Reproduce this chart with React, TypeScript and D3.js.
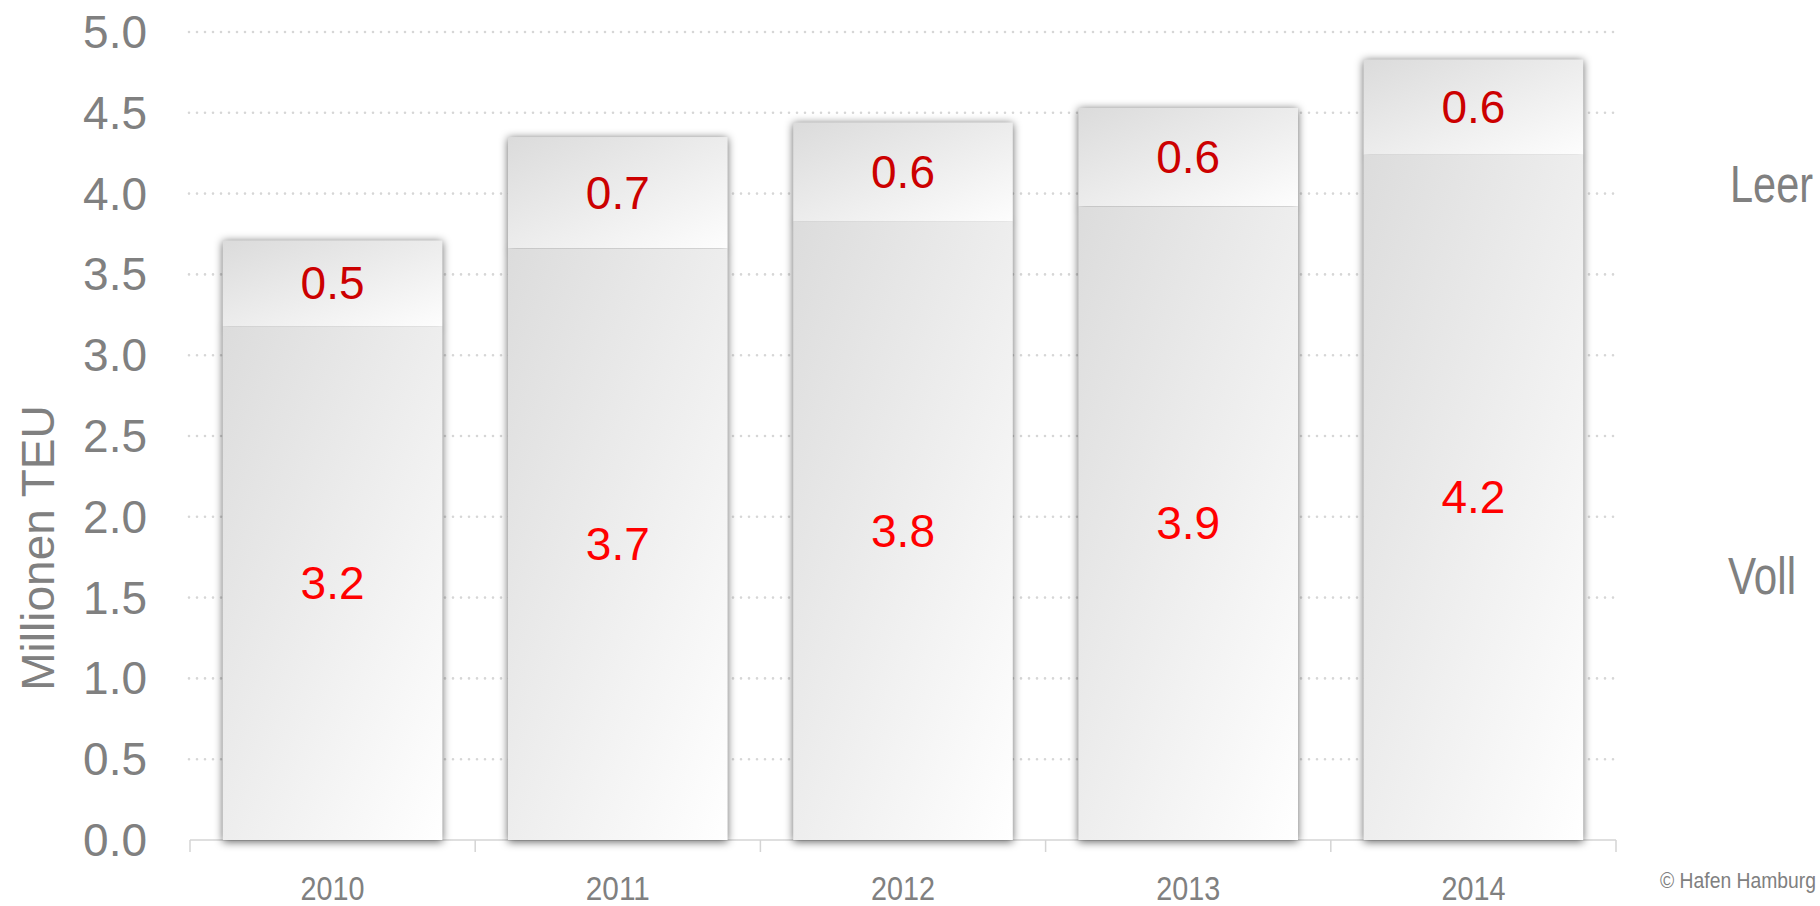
import React from "react";
import * as d3 from "d3";

const years = ["2010", "2011", "2012", "2013", "2014"];
const voll = [3.18, 3.66, 3.83, 3.92, 4.24];
const leer = [0.53, 0.69, 0.61, 0.61, 0.59];
const yTicks = [0, 0.5, 1, 1.5, 2, 2.5, 3, 3.5, 4, 4.5, 5];
const seriesNames = ["Leer", "Voll"];
const yTitle = "Millionen TEU";
const credit = "© Hafen Hamburg";

const W = 1820;
const H = 906;
const ARIAL = "'Liberation Sans', Arial, sans-serif";

export default function App() {
  const x = d3.scaleBand<string>().domain(years).range([190, 1616]).paddingInner(0.23).paddingOuter(0.115);
  const y = d3.scaleLinear().domain([0, 5]).range([840, 32]);
  const fmt = d3.format(".1f");
  const bw = x.bandwidth();
  const step = x.step();
  const bandEdges = years.map((yr) => (x(yr) as number) - (step * 0.23) / 2).concat([1616]);

  const segs = years.flatMap((yr, i) => [
    { key: yr + "v", yr, y0: 0, y1: voll[i], v: voll[i], type: "voll" },
    { key: yr + "l", yr, y0: voll[i], y1: voll[i] + leer[i], v: leer[i], type: "leer" },
  ]);

  return (
    <svg width={W} height={H} style={{ position: "absolute", left: 0, top: 0, background: "#fff" }}>
      <defs>
        <linearGradient id="gLeer" x1="0" y1="0" x2="1" y2="1">
          <stop offset="0" stopColor="#dbdbdb" />
          <stop offset="1" stopColor="#fdfdfd" />
        </linearGradient>
        <linearGradient id="gVoll" x1="0" y1="0" x2="1" y2="1">
          <stop offset="0" stopColor="#dcdcdc" />
          <stop offset="1" stopColor="#ffffff" />
        </linearGradient>
        <filter id="blur" x="-20%" y="-20%" width="140%" height="140%">
          <feGaussianBlur stdDeviation="4" />
        </filter>
      </defs>

      {/* gridlines */}
      {yTicks.filter((t) => t > 0).map((t) => (
        <line key={t} x1={189} x2={1614} y1={y(t)} y2={y(t)} stroke="#d6d6d6" strokeWidth={2.6}
          strokeDasharray="0 8" strokeLinecap="round" />
      ))}

      {/* axis */}
      <line x1={190} x2={1616} y1={y(0)} y2={y(0)} stroke="#d4d4d4" strokeWidth={1.5} />
      {bandEdges.map((e, i) => (
        <line key={i} x1={e} x2={e} y1={y(0)} y2={y(0) + 12} stroke="#d4d4d4" strokeWidth={1.5} />
      ))}

      {/* y tick labels */}
      {yTicks.map((t) => (
        <text key={t} x={147} y={y(t) + 16} textAnchor="end" fontFamily={ARIAL} fontSize={46} fill="#808080">
          {fmt(t)}
        </text>
      ))}

      <text transform={`translate(${54},${548}) rotate(-90)`} textAnchor="middle" fontFamily={ARIAL}
        fontSize={46} fill="#808080">{yTitle}</text>

      {/* shadows */}
      <g filter="url(#blur)">
        {segs.map((s) => (
          <rect key={s.key} x={x(s.yr)} y={y(s.y1) + 1} width={bw} height={y(s.y0) - y(s.y1) + 1}
            fill="#000" fillOpacity={0.6} />
        ))}
      </g>

      {/* bars */}
      {segs.map((s) => (
        <rect key={s.key} x={x(s.yr)} y={y(s.y1)} width={bw} height={y(s.y0) - y(s.y1)}
          fill={s.type === "leer" ? "url(#gLeer)" : "url(#gVoll)"} />
      ))}

      {/* value labels */}
      {segs.map((s) => (
        <text key={s.key} x={(x(s.yr) as number) + bw / 2} y={(y(s.y0) + y(s.y1)) / 2 + 16}
          textAnchor="middle" fontFamily={ARIAL} fontSize={46}
          fill={s.type === "leer" ? "#cc0000" : "#ff0000"}>{fmt(s.v)}</text>
      ))}

      {/* year labels */}
      {years.map((yr) => (
        <text key={yr} x={(x(yr) as number) + bw / 2 - 32} y={900} fontFamily={ARIAL}
          fontSize={34} fill="#808080" textLength={64} lengthAdjust="spacingAndGlyphs">{yr}</text>
      ))}

      {/* legend */}
      <text x={1730} y={202} fontFamily={ARIAL} fontSize={52} fill="#808080" textLength={83}
        lengthAdjust="spacingAndGlyphs">{seriesNames[0]}</text>
      <text x={1728} y={594} fontFamily={ARIAL} fontSize={51} fill="#808080" textLength={68}
        lengthAdjust="spacingAndGlyphs">{seriesNames[1]}</text>

      <text x={1660} y={888} fontFamily={ARIAL} fontSize={22} fill="#808080" textLength={156}
        lengthAdjust="spacingAndGlyphs">{credit}</text>
    </svg>
  );
}
